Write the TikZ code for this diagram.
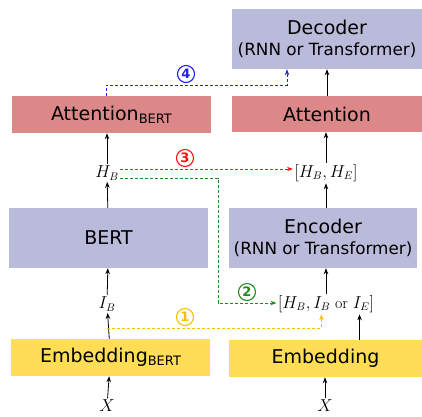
\documentclass[tikz,border=0pt]{standalone}
\usepackage{fontspec}
\newfontfamily\boxfont{DejaVu Sans}
\usetikzlibrary{arrows.meta,calc}
\definecolor{cpurple}{HTML}{BABADA}
\definecolor{cred}{HTML}{DD8888}
\definecolor{cyellow}{HTML}{FFDD55}
\definecolor{lyellow}{HTML}{F5C000}
\definecolor{lgreen}{HTML}{1E8C1E}
\definecolor{lred}{HTML}{FF1010}
\definecolor{lblue}{HTML}{2020F0}
\tikzset{
  blk/.style={draw=none,minimum width=199pt,inner sep=0pt,font=\boxfont\fontsize{19}{23}\selectfont,align=center},
  pbox/.style={blk,fill=cpurple,minimum height=60pt},
  rbox/.style={blk,fill=cred,minimum height=37pt},
  ybox/.style={blk,fill=cyellow,minimum height=37pt},
  mtxt/.style={inner sep=1.5pt,font=\fontsize{16}{18}\selectfont},
  arr/.style={-{Stealth[length=6pt,width=4.5pt]},line width=0.8pt},
  darr/.style={-{Stealth[length=6pt,width=4.5pt]},line width=0.8pt,dash pattern=on 3pt off 2pt},
  num/.style={circle,line width=1.1pt,inner sep=0pt,minimum size=17pt,font=\boxfont\bfseries\fontsize{13}{13}\selectfont},
}
\newcommand{\sub}[1]{\raisebox{-0.3ex}{\fontsize{13}{13}\selectfont #1}}
\begin{document}
\begin{tikzpicture}[x=1pt,y=-1pt]
\useasboundingbox (0,0) rectangle (422,416);
% left column
\node[rbox,minimum width=199pt] (attb) at (111.5,114.5) {Attention\sub{BERT}};
\node[pbox,minimum width=199pt] (bert) at (108.5,238) {BERT};
\node[ybox,minimum width=199pt] (embb) at (110.5,357.5) {Embedding\sub{BERT}};
% right column
\node[pbox,minimum width=190pt] (dec) at (327,39) {Decoder\\[-2pt]{\fontsize{16.8}{19}\selectfont (RNN or Transformer)}};
\node[rbox,minimum width=190pt,minimum height=36pt] (att) at (327,114) {Attention};
\node[pbox,minimum width=188pt] (enc) at (323,238) {Encoder\\[-2pt]{\fontsize{16.8}{19}\selectfont (RNN or Transformer)}};
\node[ybox,minimum width=193pt] (emb) at (325.5,358.5) {Embedding};
% math labels
\node[mtxt] (xl) at (107,406) {$X$};
\node[mtxt] (xr) at (325,406) {$X$};
\node[mtxt] (ib) at (107,304) {$I_B$};
\node[mtxt] (hb) at (107,173) {$H_B$};
\node[mtxt] (hbhe) at (326,173) {$[H_B,H_E]$};
\node[mtxt] (hbib) at (326,304) {$[H_B,I_B\ \mathrm{or}\ I_E]$};
% solid arrows
\draw[arr] (xl) -- (embb);
\draw[arr] (embb) -- (ib);
\draw[arr] (ib) -- (bert);
\draw[arr] (bert) -- (hb);
\draw[arr] (hb.north) -- (hb.north |- attb.south);
\draw[arr] (xr) -- (emb.south -| xr);
\coordinate (ie) at ($(hbib.south east)+(-16,0)$);
\draw[arr] (emb.north -| ie) -- (ie);
\draw[arr] (hbib.north) -- (hbib.north |- enc.south);
\draw[arr] (enc.north -| hbhe) -- (hbhe.south);
\draw[arr] (hbhe.north) -- (hbhe.north |- att.south);
\draw[arr] (att.north) -- (dec.south);
% dashed connectors
\coordinate (y0) at (107,328);
\coordinate (yib) at ($(hbib.south west)+(45,0)$);
\draw[darr,lyellow] (y0) -- (y0 -| yib) -- (yib);
\node[num,draw=lyellow,text=lyellow] (n1) at (185,317) {1};
\coordinate (g0) at ($(hb.east)+(0,5)$);
\draw[darr,lgreen] (g0) -- (218,178) -- (218,303) -- (hbib.west |- 0,303);
\node[num,draw=lgreen,text=lgreen] (n2) at (247,292) {2};
\coordinate (r0) at ($(hb.east)+(0,-4)$);
\draw[darr,lred] (r0) -- (r0 -| hbhe.west);
\node[num,draw=lred,text=lred] (n3) at (185,158) {3};
\coordinate (b1) at (287,85);
\draw[darr,lblue] (attb.north -| 106,0) -- (106,85) -- (b1) -- (b1 |- dec.south);
\node[num,draw=lblue,text=lblue] (n4) at (186,74) {4};
\end{tikzpicture}
\end{document}
